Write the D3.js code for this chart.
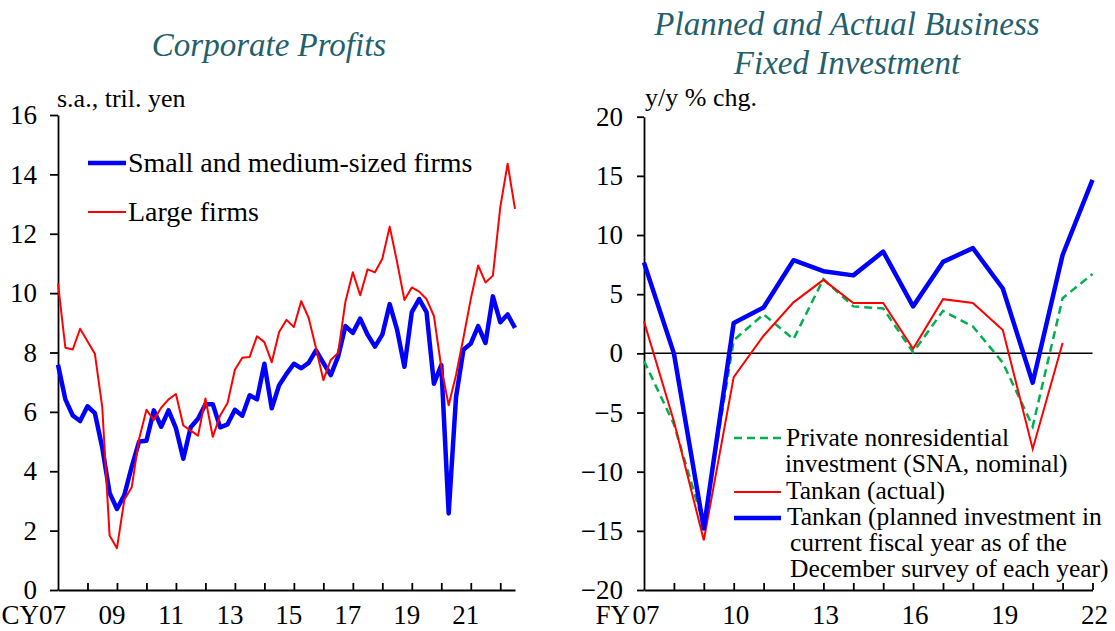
<!DOCTYPE html>
<html>
<head>
<meta charset="utf-8">
<script src="https://cdnjs.cloudflare.com/ajax/libs/d3/7.8.5/d3.min.js"></script>
<style>
body { margin: 0; background: #fff; }
svg { font-family: "Liberation Serif", "Times New Roman", serif; }
</style>
</head>
<body>
<svg id="chart" width="1115" height="631"></svg>
<script>
// left panel: corporate profits, s.a., tril. yen, 2007Q1 - 2022Q3
var profitQuarters = d3.range(63).map(function(i) { return 2007 + i / 4; });

var smallFirms = [7.59, 6.42, 5.88, 5.69, 6.19, 5.96, 4.8, 3.27, 2.73, 3.2,
    4.15, 5.0, 5.03, 6.05, 5.5, 6.05, 5.45, 4.42, 5.48, 5.77,
    6.26, 6.26, 5.48, 5.58, 6.07, 5.87, 6.56, 6.42, 7.62, 6.12,
    6.9, 7.28, 7.62, 7.47, 7.65, 8.07, 7.65, 7.24, 7.86, 8.89,
    8.66, 9.14, 8.6, 8.2, 8.6, 9.63, 8.77, 7.52, 9.36, 9.8,
    9.36, 6.95, 7.58, 2.58, 6.5, 8.09, 8.3, 8.89, 8.32, 9.89,
    9.02, 9.28, 8.83];

var largeFirms = [10.32, 8.16, 8.1, 8.8, 8.38, 7.96, 6.17, 1.84, 1.41, 3.04,
    3.46, 5.09, 6.07, 5.73, 6.14, 6.42, 6.6, 5.54, 5.37, 5.2,
    6.45, 5.16, 5.88, 6.3, 7.42, 7.82, 7.85, 8.55, 8.35, 7.67,
    8.69, 9.1, 8.86, 9.73, 9.17, 8.15, 7.07, 7.75, 7.98, 9.72,
    10.7, 9.93, 10.8, 10.7, 11.16, 12.24, 11.05, 9.77, 10.19, 10.05,
    9.8, 9.23, 7.5, 6.22, 7.24, 8.49, 9.8, 10.93, 10.36, 10.59,
    12.89, 14.36, 12.84];

var profitTicks = [0, 2, 4, 6, 8, 10, 12, 14, 16];
var cyLabelYears = [2007, 2009, 2011, 2013, 2015, 2017, 2019, 2021];
var cyLabels = ["CY07", "09", "11", "13", "15", "17", "19", "21"];

// right panel: business fixed investment, y/y % chg.
var fiscalYears = [2007, 2008, 2009, 2010, 2011, 2012, 2013, 2014, 2015, 2016, 2017, 2018, 2019, 2020, 2021, 2022];
var snaInvestment = [-0.64, -5.98, -14.5, 1.1, 3.3, 1.2, 6.27, 3.97, 3.79, 0.09, 3.59, 2.27, -0.79, -6.18, 4.66, 6.71];
var tankanActual = [2.7, -5.74, -15.8, -2.01, 1.49, 4.31, 6.21, 4.26, 4.26, 0.38, 4.58, 4.26, 1.98, -8.08, 0.87];
var tankanPlanned = [7.67, 0.0, -14.8, 2.57, 3.88, 7.87, 6.94, 6.59, 8.6, 3.97, 7.73, 8.89, 5.48, -2.48, 8.31, 14.66];

var investTicks = [-20, -15, -10, -5, 0, 5, 10, 15, 20];
var fyLabelYears = [2007, 2010, 2013, 2016, 2019, 2022];
var fyLabels = ["07", "10", "13", "16", "19", "22"];

var svg = d3.select("#chart");
var titleColor = "#22606c";
var tickFont = 27;

function styleAxis(g) {
    g.selectAll("path, line").attr("stroke", "#000").attr("stroke-width", 1.8);
    g.selectAll("text").attr("font-size", tickFont).attr("fill", "#000")
        .attr("font-family", "Liberation Serif, Times New Roman, serif");
}

// ---------- left chart ----------
var xL = d3.scaleLinear().domain([2007, 2022.5]).range([58, 515]);
var yL = d3.scaleLinear().domain([0, 16]).range([590, 115]);

svg.append("text")
    .attr("x", 269).attr("y", 56)
    .attr("text-anchor", "middle")
    .attr("font-size", 33).attr("font-style", "italic")
    .attr("fill", titleColor)
    .text("Corporate Profits");

svg.append("text")
    .attr("x", 57).attr("y", 107)
    .attr("font-size", 26)
    .text("s.a., tril. yen");

svg.append("g")
    .attr("transform", "translate(" + xL(2007) + ",0)")
    .call(d3.axisLeft(yL).tickValues(profitTicks).tickSize(8).tickSizeOuter(0).tickPadding(13))
    .call(styleAxis);

svg.append("g")
    .attr("transform", "translate(0," + yL(0) + ")")
    .call(d3.axisBottom(xL).tickValues(d3.range(2008, 2023)).tickSize(-7).tickSizeOuter(0).tickFormat(""))
    .call(styleAxis);

svg.append("g").selectAll("text")
    .data(cyLabelYears)
    .enter().append("text")
    .attr("x", function(d, i) { return i == 0 ? xL(d) + 8 : xL(d) - 5; })
    .attr("y", 624)
    .attr("text-anchor", function(d, i) { return i == 0 ? "end" : "middle"; })
    .attr("font-size", tickFont)
    .text(function(d, i) { return cyLabels[i]; });

var lineL = function(values) {
    return d3.line()
        .x(function(d, i) { return xL(profitQuarters[i]); })
        .y(function(d) { return yL(d); })(values);
};

svg.append("path")
    .attr("d", lineL(smallFirms))
    .attr("fill", "none").attr("stroke", "#0000ff")
    .attr("stroke-width", 4.5).attr("stroke-linejoin", "round");

svg.append("path")
    .attr("d", lineL(largeFirms))
    .attr("fill", "none").attr("stroke", "#ff0000")
    .attr("stroke-width", 2).attr("stroke-linejoin", "round");

// legend
svg.append("line").attr("x1", 88).attr("x2", 126).attr("y1", 163).attr("y2", 163)
    .attr("stroke", "#0000ff").attr("stroke-width", 4.5);
svg.append("text").attr("x", 128).attr("y", 172).attr("font-size", 28)
    .text("Small and medium-sized firms");
svg.append("line").attr("x1", 88).attr("x2", 126).attr("y1", 212).attr("y2", 212)
    .attr("stroke", "#ff0000").attr("stroke-width", 2);
svg.append("text").attr("x", 128).attr("y", 221).attr("font-size", 28)
    .text("Large firms");

// ---------- right chart ----------
var xR = d3.scaleLinear().domain([2007, 2022]).range([644, 1092.5]);
var yR = d3.scaleLinear().domain([-20, 20]).range([590, 116.7]);

svg.append("text")
    .attr("x", 847).attr("y", 35)
    .attr("text-anchor", "middle")
    .attr("font-size", 33).attr("font-style", "italic")
    .attr("fill", titleColor)
    .text("Planned and Actual Business");
svg.append("text")
    .attr("x", 847).attr("y", 74)
    .attr("text-anchor", "middle")
    .attr("font-size", 33).attr("font-style", "italic")
    .attr("fill", titleColor)
    .text("Fixed Investment");

svg.append("text")
    .attr("x", 645).attr("y", 106)
    .attr("font-size", 26)
    .text("y/y % chg.");

svg.append("g")
    .attr("transform", "translate(" + xR(2007) + ",0)")
    .call(d3.axisLeft(yR).tickValues(investTicks).tickSize(7).tickSizeOuter(0).tickPadding(14))
    .call(styleAxis);

svg.append("g")
    .attr("transform", "translate(0," + yR(-20) + ")")
    .call(d3.axisBottom(xR).tickValues(fiscalYears.slice(1)).tickSize(-7).tickSizeOuter(0).tickFormat(""))
    .call(styleAxis);

svg.append("line")
    .attr("x1", xR(2007)).attr("x2", xR(2022))
    .attr("y1", yR(0)).attr("y2", yR(0))
    .attr("stroke", "#000").attr("stroke-width", 1.5);

svg.append("g").selectAll("text")
    .data(fyLabelYears)
    .enter().append("text")
    .attr("x", function(d) { return xR(d) + 2; })
    .attr("y", 624)
    .attr("text-anchor", "middle")
    .attr("font-size", tickFont)
    .text(function(d, i) { return fyLabels[i]; });
svg.append("text")
    .attr("x", xR(2007) - 14).attr("y", 624)
    .attr("text-anchor", "end")
    .attr("font-size", tickFont)
    .text("FY");

var lineR = function(values) {
    return d3.line()
        .x(function(d, i) { return xR(fiscalYears[i]); })
        .y(function(d) { return yR(d); })(values);
};

svg.append("path")
    .attr("d", lineR(snaInvestment))
    .attr("fill", "none").attr("stroke", "#00b050")
    .attr("stroke-width", 2.5).attr("stroke-dasharray", "8,5");

svg.append("path")
    .attr("d", lineR(tankanActual))
    .attr("fill", "none").attr("stroke", "#ff0000")
    .attr("stroke-width", 2);

svg.append("path")
    .attr("d", lineR(tankanPlanned))
    .attr("fill", "none").attr("stroke", "#0000ff")
    .attr("stroke-width", 4.5).attr("stroke-linejoin", "round");

// legend
var legR = svg.append("g").attr("font-size", 25.5);
legR.append("line").attr("x1", 734).attr("x2", 781).attr("y1", 438).attr("y2", 438)
    .attr("stroke", "#00b050").attr("stroke-width", 2.5).attr("stroke-dasharray", "8,5");
legR.append("text").attr("x", 786).attr("y", 446).text("Private nonresidential");
legR.append("text").attr("x", 785).attr("y", 472).text("investment (SNA, nominal)");
legR.append("line").attr("x1", 734).attr("x2", 781).attr("y1", 492).attr("y2", 492)
    .attr("stroke", "#ff0000").attr("stroke-width", 2);
legR.append("text").attr("x", 786).attr("y", 499).text("Tankan (actual)");
legR.append("line").attr("x1", 734).attr("x2", 781).attr("y1", 518).attr("y2", 518)
    .attr("stroke", "#0000ff").attr("stroke-width", 4.5);
legR.append("text").attr("x", 787).attr("y", 525).text("Tankan (planned investment in");
legR.append("text").attr("x", 790).attr("y", 551).text("current fiscal year as of the");
legR.append("text").attr("x", 790).attr("y", 577).text("December survey of each year)");
</script>
</body>
</html>
